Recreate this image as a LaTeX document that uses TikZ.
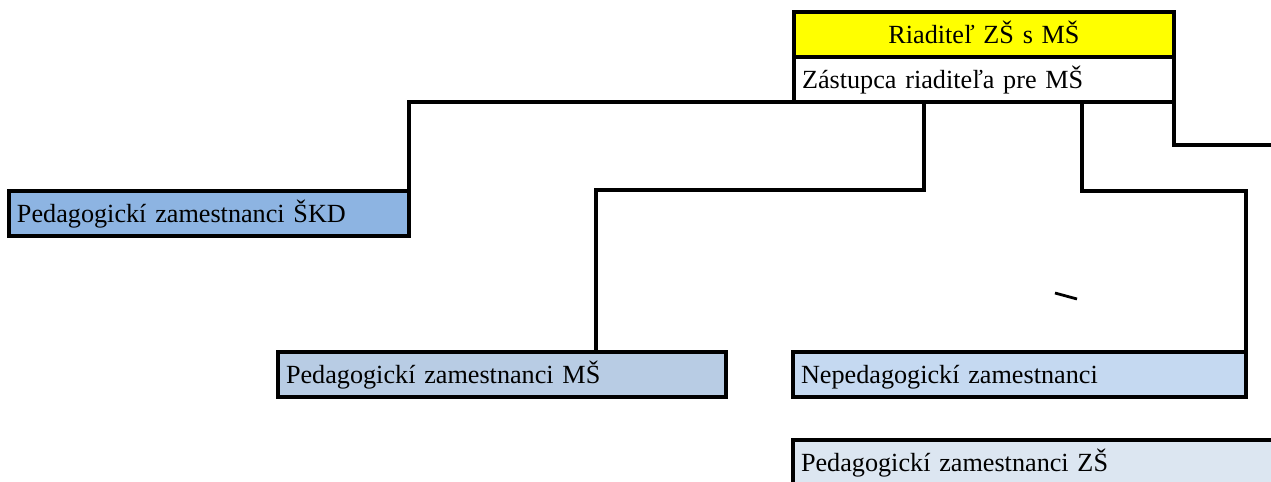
\documentclass[tikz,border=0pt]{standalone}
\usepackage{fontspec}
\setmainfont{Liberation Serif}
\usepackage{tikz}
\usetikzlibrary{positioning}
\usetikzlibrary{calc}

\definecolor{headyellow}{RGB}{255,255,0}
\definecolor{skdblue}{RGB}{141,180,226}
\definecolor{msblue}{RGB}{184,204,228}
\definecolor{nepblue}{RGB}{197,217,241}
\definecolor{zsblue}{RGB}{220,230,241}

\tikzset{
  unitbox/.style={draw, line width=1.6pt, outer sep=0pt, inner xsep=4pt, inner ysep=2pt,
    text width=#1, align=left, text height=13.5pt, text depth=5pt,
    font=\fontsize{13.1}{16}\selectfont},
  link/.style={draw, line width=1.6pt, line cap=rect}
}

\begin{document}
\begin{tikzpicture}[x=0.5pt, y=-0.5pt]
  \clip (0,0) rectangle (1271,482);
  \node[unitbox=182pt, fill=headyellow, align=center, anchor=north west] (dir) at (794,12) {Riaditeľ ZŠ s MŠ\hspace*{14pt}};
  \node[unitbox=182pt, fill=white, below=0pt of dir] (zast) {Zástupca riaditeľa pre MŠ};
  \node[unitbox=192pt, fill=skdblue, anchor=north west] (skd) at (9,191) {Pedagogickí zamestnanci ŠKD};
  \node[unitbox=216pt, fill=msblue, anchor=north west] (ms) at (278,352) {Pedagogickí zamestnanci MŠ};
  \node[unitbox=218.5pt, fill=nepblue, right=33.5pt of ms] (nep) {Nepedagogickí zamestnanci};
  \node[unitbox=242pt, fill=zsblue, below=21.5pt of nep.south west, anchor=north west] (zs) {Pedagogickí zamestnanci ZŠ};
  \coordinate (edge-r) at (1290,145);
  % connectors
  \draw[link] (zast.south west) -| (skd.north east);
  \draw[link] ($(zast.south west)+(130,0)$) -- ++(0,88) -| ($(ms.north west)+(318,0)$);
  \draw[link] ($(zast.south west)+(288,0)$) -- ++(0,89) -| (nep.north east);
  \draw[link] (zast.south east) |- (edge-r);
  \draw[line width=1.4pt] (1055,293) -- (1077,299);
\end{tikzpicture}
\end{document}
